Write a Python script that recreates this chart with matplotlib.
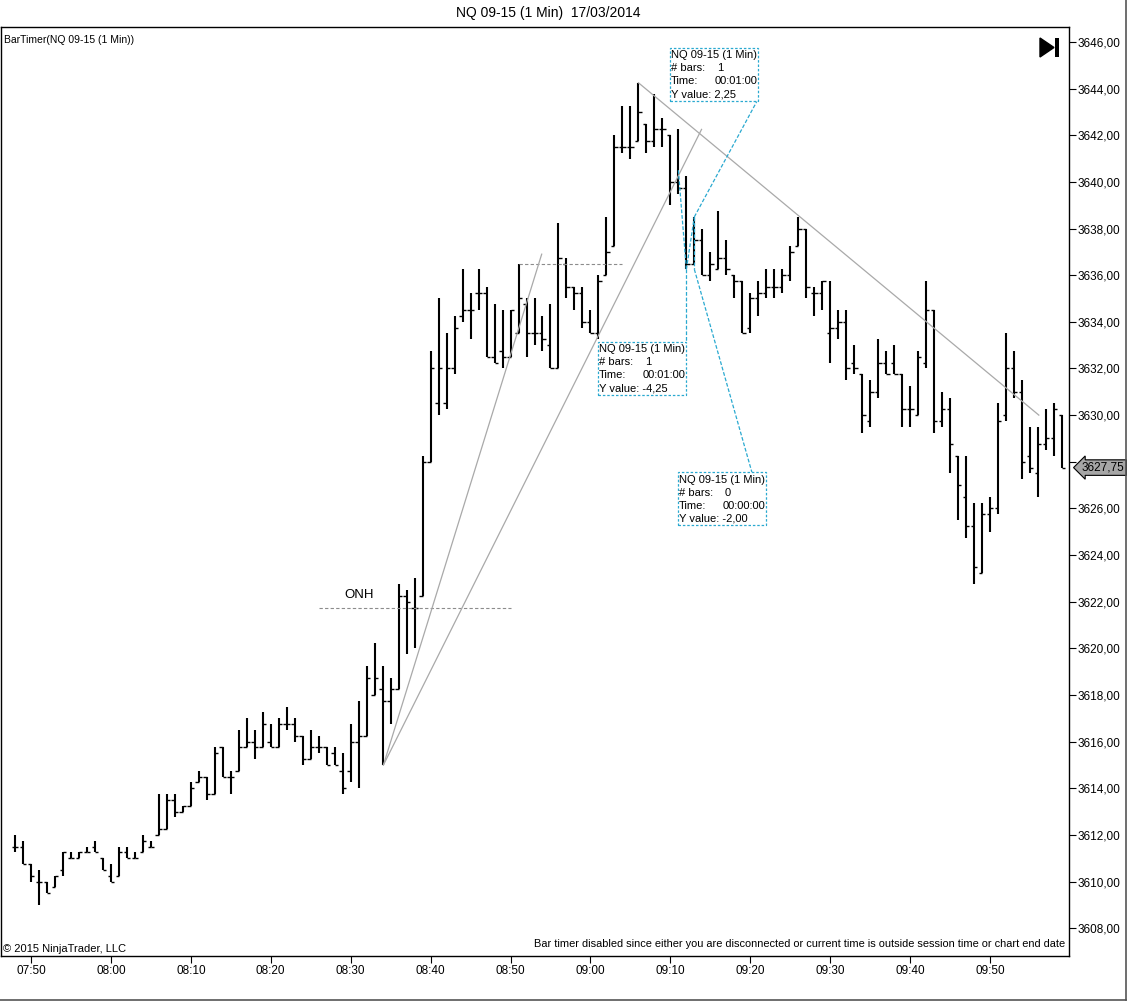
import matplotlib.pyplot as plt
from matplotlib.patches import Rectangle, Polygon
from matplotlib.lines import Line2D
from matplotlib.ticker import FuncFormatter

plt.rcParams['font.family'] = ['Liberation Sans', 'DejaVu Sans']

# minutes after 07:50, one bar per minute
minutes = list(range(-2, 130))
opens = [3611.5, 3611.5, 3610.75, 3610.0, 3610.0, 3609.75, 3610.5, 3611.0, 3611.0, 3611.25,
         3611.5, 3611.0, 3610.25, 3610.25, 3611.25, 3611.0, 3611.25, 3611.5, 3612.0, 3612.25,
         3613.5, 3613.0, 3613.25, 3614.25, 3614.5, 3613.75, 3615.75, 3614.5, 3614.75, 3615.75,
         3616.0, 3615.75, 3616.0, 3615.75, 3616.75, 3616.75, 3616.25, 3615.25, 3615.75, 3615.75,
         3615.5, 3614.75, 3614.75, 3616.0, 3616.25, 3618.0, 3618.25, 3617.75, 3618.25, 3622.25,
         3621.75, 3622.25, 3628.0, 3630.5, 3630.5, 3632.0, 3634.25, 3634.5, 3635.25, 3635.25,
         3632.5, 3632.75, 3632.5, 3633.5, 3634.75, 3633.5, 3633.5, 3633.0, 3632.0, 3636.5,
         3635.5, 3635.25, 3634.0, 3633.5, 3636.0, 3637.25, 3641.5, 3641.5, 3641.75, 3642.5,
         3641.75, 3642.25, 3642.0, 3640.0, 3639.75, 3636.5, 3637.5, 3636.0, 3636.25, 3636.75,
         3636.0, 3635.75, 3633.75, 3635.0, 3635.25, 3635.5, 3635.5, 3636.0, 3637.25, 3638.0,
         3635.25, 3635.25, 3633.5, 3633.75, 3634.0, 3632.25, 3631.75, 3629.75, 3631.0, 3632.25,
         3632.25, 3631.75, 3630.25, 3630.0, 3632.25, 3634.5, 3629.75, 3630.25, 3628.25, 3626.5,
         3625.25, 3623.25, 3625.75, 3626.0, 3630.0, 3632.0, 3631.0, 3628.25, 3627.5, 3628.75,
         3629.0, 3630.0]
highs = [3612.0, 3611.75, 3610.75, 3610.5, 3610.0, 3610.25, 3611.25, 3611.25, 3611.25, 3611.5,
         3611.75, 3611.0, 3610.75, 3611.5, 3611.5, 3611.25, 3612.0, 3611.75, 3613.75, 3613.75,
         3613.75, 3613.25, 3614.25, 3614.75, 3614.5, 3615.75, 3615.75, 3614.75, 3616.5, 3617.0,
         3616.5, 3617.25, 3616.75, 3617.0, 3617.5, 3617.0, 3616.25, 3616.5, 3616.25, 3615.75,
         3615.75, 3615.5, 3616.75, 3617.75, 3619.25, 3620.25, 3619.25, 3618.75, 3622.75, 3622.5,
         3623.0, 3628.25, 3632.75, 3635.0, 3633.5, 3634.25, 3636.25, 3635.25, 3636.25, 3635.5,
         3634.75, 3634.5, 3634.5, 3636.5, 3635.0, 3635.0, 3634.25, 3634.75, 3638.25, 3636.75,
         3635.5, 3635.5, 3634.5, 3636.0, 3638.5, 3642.0, 3643.25, 3643.25, 3644.25, 3642.5,
         3643.75, 3642.75, 3642.0, 3642.25, 3640.25, 3638.5, 3638.0, 3637.0, 3638.75, 3637.5,
         3636.0, 3635.75, 3635.25, 3635.75, 3636.25, 3636.25, 3636.25, 3637.25, 3638.5, 3638.0,
         3635.5, 3635.75, 3635.75, 3634.5, 3634.5, 3633.0, 3631.75, 3631.5, 3633.25, 3632.75,
         3633.0, 3631.75, 3631.25, 3632.75, 3635.75, 3634.5, 3631.0, 3630.75, 3628.25, 3628.25,
         3626.25, 3626.25, 3626.5, 3630.5, 3633.5, 3632.75, 3631.5, 3629.5, 3629.5, 3630.25,
         3630.5, 3630.0]
lows = [3611.25, 3610.75, 3610.0, 3609.0, 3609.5, 3609.75, 3610.25, 3611.0, 3611.0, 3611.25,
        3611.25, 3610.5, 3610.0, 3610.25, 3611.0, 3611.0, 3611.25, 3611.5, 3612.0, 3612.25,
        3612.75, 3613.0, 3613.25, 3614.25, 3613.5, 3613.75, 3614.5, 3613.75, 3614.75, 3615.75,
        3615.25, 3615.75, 3615.75, 3615.75, 3616.5, 3616.0, 3615.0, 3615.25, 3615.5, 3615.0,
        3615.0, 3613.75, 3614.25, 3614.0, 3616.25, 3618.0, 3615.0, 3616.75, 3618.25, 3619.75,
        3620.0, 3622.25, 3628.0, 3630.0, 3630.25, 3631.75, 3634.0, 3633.25, 3634.5, 3632.5,
        3632.25, 3632.0, 3632.5, 3633.5, 3632.5, 3633.0, 3632.75, 3632.0, 3632.0, 3635.0,
        3634.5, 3633.75, 3633.5, 3633.25, 3636.0, 3637.25, 3641.25, 3641.0, 3641.75, 3641.25,
        3641.5, 3641.5, 3639.0, 3639.5, 3636.25, 3636.5, 3636.0, 3635.75, 3636.25, 3636.0,
        3635.0, 3633.5, 3633.5, 3634.25, 3635.0, 3635.0, 3635.25, 3635.75, 3637.25, 3635.0,
        3634.25, 3634.5, 3632.25, 3633.25, 3631.5, 3631.75, 3629.25, 3629.5, 3630.75, 3631.75,
        3631.75, 3629.5, 3629.5, 3630.0, 3632.0, 3629.25, 3629.5, 3627.5, 3625.5, 3624.75,
        3622.75, 3623.25, 3625.0, 3625.75, 3629.75, 3630.75, 3627.25, 3627.5, 3626.5, 3628.5,
        3628.25, 3627.75]
closes = [3611.5, 3610.75, 3610.25, 3610.0, 3609.5, 3610.25, 3611.25, 3611.0, 3611.25, 3611.25,
          3611.25, 3610.5, 3610.0, 3611.25, 3611.0, 3611.0, 3611.75, 3611.5, 3612.25, 3613.5,
          3613.0, 3613.25, 3614.0, 3614.5, 3613.75, 3615.5, 3614.5, 3614.5, 3615.75, 3616.0,
          3615.75, 3616.75, 3615.75, 3616.75, 3616.75, 3616.25, 3615.25, 3615.75, 3615.75, 3615.0,
          3615.0, 3614.0, 3616.0, 3616.25, 3618.75, 3618.75, 3617.75, 3618.25, 3622.25, 3622.0,
          3621.75, 3628.0, 3632.0, 3632.0, 3632.0, 3633.75, 3634.5, 3634.5, 3635.25, 3632.5,
          3632.25, 3632.5, 3634.5, 3635.0, 3633.5, 3633.5, 3633.25, 3632.0, 3636.75, 3635.5,
          3635.25, 3634.0, 3633.5, 3635.75, 3637.0, 3641.5, 3641.5, 3641.5, 3643.0, 3641.75,
          3642.25, 3642.25, 3640.0, 3639.75, 3636.5, 3637.5, 3636.0, 3636.5, 3636.75, 3636.25,
          3635.75, 3633.5, 3635.0, 3635.25, 3635.5, 3635.5, 3636.0, 3637.0, 3638.0, 3635.5,
          3635.25, 3635.75, 3633.75, 3634.0, 3632.0, 3632.0, 3630.0, 3631.0, 3632.25, 3631.75,
          3631.75, 3630.25, 3630.25, 3632.5, 3634.5, 3629.75, 3630.25, 3628.75, 3627.0, 3625.25,
          3623.5, 3625.75, 3626.0, 3629.75, 3632.0, 3631.0, 3628.0, 3627.75, 3628.75, 3629.0,
          3630.25, 3627.75]

time_ticks = [0, 10, 20, 30, 40, 50, 60, 70, 80, 90, 100, 110, 120]
time_labels = ['07:50', '08:00', '08:10', '08:20', '08:30', '08:40', '08:50',
               '09:00', '09:10', '09:20', '09:30', '09:40', '09:50']
price_ticks = list(range(3608, 3648, 2))
last_price = 3627.75

# drawn objects: (minute, price) pairs
onh_price, onh_span = 3621.75, (36, 60)
hline_price, hline_span = 3636.5, (61, 74)
trend_lines = [((44.1, 3615.0), (63.9, 3636.9)),
               ((44.1, 3615.0), (83.9, 3642.25)),
               ((76.0, 3644.25), (126.1, 3630.0))]
rulers = [((82, 3636.25), (83, 3638.5), (90.9, 3643.5)),
          ((81, 3640.5), (82, 3636.25), (82.0, 3633.15)),
          ((83, 3638.5), (83, 3636.25), (90.2, 3627.55))]
boxes = [(79.9, 3645.75, ['NQ 09-15 (1 Min)', '# bars:', 'Time:', 'Y value: 2,25'], ['', '1', '00:01:00', '']),
         (70.9, 3633.15, ['NQ 09-15 (1 Min)', '# bars:', 'Time:', 'Y value: -4,25'], ['', '1', '00:01:00', '']),
         (80.9, 3627.55, ['NQ 09-15 (1 Min)', '# bars:', 'Time:', 'Y value: -2,00'], ['', '0', '00:00:00', ''])]

W, H = 1130, 1002
fig = plt.figure(figsize=(W / 100, H / 100), dpi=100)
ax = fig.add_axes([1 / W, (H - 956) / H, 1068 / W, 929 / H])
ax.set_xlim(-3.75, 129.875)
ax.set_ylim(3606.81, 3646.64)

# OHLC bars
ax.vlines(minutes, lows, highs, color='black', lw=1.5)
ax.hlines(opens, [m - 0.42 for m in minutes], minutes, color='black', lw=1.0)
ax.hlines(closes, minutes, [m + 0.42 for m in minutes], color='black', lw=1.0)

gray = '#a9a9a9'
ax.hlines(onh_price, *onh_span, color='#8c8c8c', lw=0.8, linestyles=(0, (3, 2)))
ax.text(41, 3622.3, 'ONH', fontsize=9.5, ha='center', va='center')
ax.hlines(hline_price, *hline_span, color='#8c8c8c', lw=0.8, linestyles=(0, (3, 2)))
for (x0, y0), (x1, y1) in trend_lines:
    ax.plot([x0, x1], [y0, y1], color=gray, lw=0.9)

cyan = '#2aa9d0'
for (x0, y0), (x1, y1), (bx, by) in rulers:
    ax.plot([x0, x1], [y0, y1], color=cyan, lw=0.9, ls=(0, (3, 1.5)))
    ax.plot([x1, bx], [y1, by], color=cyan, lw=0.9, ls=(0, (3, 1.5)))

bw, bh = 11.1, 2.27
for bx, by, labels, values in boxes:
    ax.add_patch(Rectangle((bx, by - bh), bw, bh, fill=True, fc='white', ec=cyan,
                           lw=0.9, ls=(0, (2, 1.5)), zorder=4))
    for i, (lab, val) in enumerate(zip(labels, values)):
        yy = by - 0.33 - i * 0.555
        ax.text(bx + 0.2, yy, lab, fontsize=8, va='center', ha='left', zorder=5)
        if val:
            ax.text(bx + 5.6 if len(val) > 1 else bx + 5.9, yy, val, fontsize=8,
                    va='center', ha='left', zorder=5)

# axes styling
for s in ax.spines.values():
    s.set_color('black')
    s.set_linewidth(1.0)
ax.yaxis.tick_right()
ax.set_yticks(price_ticks)
# the 3628 label sits under the last-price marker
ax.yaxis.set_major_formatter(FuncFormatter(
    lambda v, p: '' if abs(v - 3628) < 0.01 else f'{v:.2f}'.replace('.', ',')))
ax.set_xticks(time_ticks)
ax.set_xticklabels(time_labels)
ax.tick_params(axis='both', direction='out', length=5, width=0.8, labelsize=8.5, pad=1)
ax.tick_params(axis='x', pad=1.5)

ax.text(1.012, last_price, f'{last_price:.2f}'.replace('.', ','),
        transform=ax.get_yaxis_transform(), fontsize=8.5, ha='left', va='center',
        bbox=dict(boxstyle='larrow,pad=0.15', fc='#a6a6a6', ec='black', lw=0.8), zorder=6,
        clip_on=False)

def fx(x, y):
    return (x / W, 1 - y / H)

fig.text(*fx(548, 13), 'NQ 09-15 (1 Min)  17/03/2014', fontsize=10, ha='center', va='center')
fig.text(*fx(4, 40), 'BarTimer(NQ 09-15 (1 Min))', fontsize=7.5, ha='left', va='center')
fig.text(*fx(3, 949), '\u00a9 2015 NinjaTrader, LLC', fontsize=8, ha='left', va='center')
fig.text(*fx(1065, 944), 'Bar timer disabled since either you are disconnected or current time '
         'is outside session time or chart end date', fontsize=7.9, ha='right', va='center')

# play-to-end icon
fig.add_artist(Polygon([fx(1040, 38), fx(1040, 57), fx(1054, 47.5)], closed=True,
                       fc='black', ec='black', transform=fig.transFigure))
fig.add_artist(Rectangle(fx(1055, 57), 3.5 / W, 19 / H, fc='black', ec='none',
                         transform=fig.transFigure))
# outer frame
fig.add_artist(Line2D([fx(1126, 0)[0]] * 2, [fx(0, 1000)[1], 1], color='#555555', lw=1.2))
fig.add_artist(Line2D([0, fx(1126, 0)[0]], [fx(0, 1000)[1]] * 2, color='#555555', lw=1.2))

fig.savefig('out.png', dpi=100)
